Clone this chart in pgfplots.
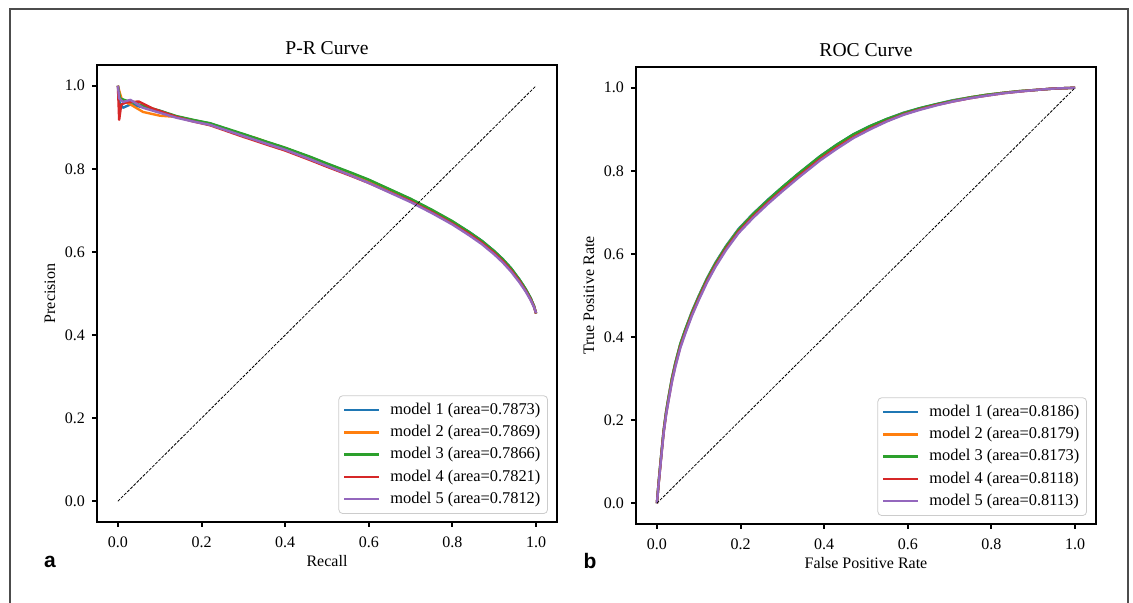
\documentclass[border=0pt]{standalone}
\usepackage{fontspec}
\setmainfont{Liberation Serif}
\newfontfamily\panelfont{Liberation Sans}
\usepackage{pgfplots}
\pgfplotsset{compat=1.18}

\definecolor{c1}{HTML}{1F77B4}
\definecolor{c2}{HTML}{FF7F0E}
\definecolor{c3}{HTML}{2CA02C}
\definecolor{c4}{HTML}{D62728}
\definecolor{c5}{HTML}{9467BD}

\pgfplotsset{
  panel/.style={
    scale only axis, width=230pt, height=228.5pt,
    anchor=south west,
    xmin=-0.05, xmax=1.05, ymin=-0.05, ymax=1.05,
    xtick={0,0.2,0.4,0.6,0.8,1.0},
    ytick={0,0.2,0.4,0.6,0.8,1.0},
    tick pos=left, tick align=outside,
    major tick length=2.5pt,
    every tick/.style={black, line width=1pt},
    axis line style={line width=1pt},
    /pgf/number format/.cd, fixed, fixed zerofill, precision=1, assume math mode=true,
    /pgfplots/.cd,
    ticklabel style={font=\fontsize{8}{9.6}\selectfont},
    xticklabel style={yshift=-1.5pt},
    label style={font=\fontsize{8}{9.6}\selectfont},
    title style={font=\fontsize{9.8}{11}\selectfont, at={(axis description cs:0.5,1)}, anchor=center, yshift=2.6pt},
    xlabel style={at={(axis description cs:0.5,-0.0853)}, anchor=center},
    ylabel style={at={(axis description cs:-0.1022,0.5)}, anchor=center},
    every axis plot/.append style={line width=1.2pt, line join=round},
    legend cell align=left,
    legend image code/.code={\draw[##1, line width=1.2pt] (0pt,0pt) -- (17.5pt,0pt);},
    legend style={font=\fontsize{8.2}{9.8}\selectfont, draw=black!20, rounded corners=2pt,
      anchor=south east, at={(0.9804,0.0175)}, inner xsep=2pt, inner ysep=2pt,
      nodes={inner sep=1.6pt}, row sep=0.75pt, column sep=3.5pt},
  },
  diag/.style={black, line width=0.4pt, dash pattern=on 1.5pt off 0.7pt, forget plot},
}

\begin{document}
\begin{tikzpicture}
\path[use as bounding box] (0,0) rectangle (566.5pt,301.5pt);
\draw[line width=0.8pt, black!70] (5pt,-2pt) -- (5pt,297pt) -- (564pt,297pt) -- (564pt,-2pt);

\begin{axis}[panel, at={(48.5pt,40.5pt)}, title={P-R Curve}, xlabel={Recall}, ylabel={Precision}]
\addplot[c1] coordinates {(0,1.0) (0.004,0.96) (0.012,0.947) (0.03,0.955) (0.06,0.948) (0.1,0.94) (0.14,0.926) (0.18,0.917) (0.22,0.909) (0.30,0.883) (0.36,0.863) (0.40,0.850) (0.46,0.828) (0.50,0.812) (0.56,0.789) (0.60,0.773) (0.65,0.750) (0.70,0.727) (0.75,0.701) (0.80,0.673) (0.84,0.648) (0.87,0.627) (0.90,0.602) (0.92,0.583) (0.94,0.561) (0.96,0.534) (0.975,0.511) (0.987,0.489) (0.995,0.470) (1.0,0.452)};
\addplot[c2] coordinates {(0,1.0) (0.004,0.985) (0.01,0.965) (0.03,0.955) (0.06,0.937) (0.1,0.928) (0.14,0.925) (0.18,0.917) (0.22,0.908) (0.30,0.881) (0.33,0.874) (0.36,0.863) (0.40,0.850) (0.46,0.827) (0.50,0.811) (0.56,0.788) (0.60,0.771) (0.65,0.748) (0.70,0.725) (0.75,0.699) (0.80,0.671) (0.84,0.646) (0.87,0.625) (0.90,0.600) (0.92,0.581) (0.94,0.559) (0.96,0.532) (0.975,0.509) (0.987,0.487) (0.995,0.469) (1.0,0.452)};
\addplot[c3] coordinates {(0,1.0) (0.005,0.97) (0.015,0.966) (0.05,0.955) (0.1,0.94) (0.14,0.927) (0.18,0.918) (0.22,0.910) (0.30,0.884) (0.36,0.864) (0.40,0.851) (0.46,0.829) (0.50,0.813) (0.56,0.790) (0.60,0.774) (0.65,0.751) (0.70,0.728) (0.75,0.702) (0.80,0.674) (0.84,0.648) (0.87,0.627) (0.90,0.602) (0.92,0.583) (0.94,0.561) (0.96,0.534) (0.975,0.511) (0.987,0.489) (0.995,0.470) (1.0,0.452)};
\addplot[c4] coordinates {(0,1.0) (0.003,0.918) (0.008,0.955) (0.02,0.960) (0.05,0.962) (0.084,0.945) (0.14,0.925) (0.18,0.914) (0.22,0.905) (0.30,0.877) (0.36,0.857) (0.40,0.844) (0.46,0.821) (0.50,0.805) (0.56,0.782) (0.60,0.766) (0.65,0.744) (0.70,0.722) (0.75,0.696) (0.80,0.668) (0.84,0.643) (0.87,0.622) (0.90,0.597) (0.92,0.578) (0.94,0.556) (0.96,0.530) (0.975,0.507) (0.987,0.486) (0.995,0.468) (1.0,0.452)};
\addplot[c5] coordinates {(0,1.0) (0.003,0.97) (0.012,0.961) (0.03,0.966) (0.06,0.947) (0.1,0.935) (0.14,0.923) (0.18,0.914) (0.22,0.906) (0.30,0.879) (0.36,0.859) (0.40,0.846) (0.46,0.823) (0.50,0.807) (0.56,0.783) (0.60,0.766) (0.65,0.743) (0.70,0.720) (0.75,0.694) (0.80,0.666) (0.84,0.640) (0.87,0.619) (0.90,0.594) (0.92,0.575) (0.94,0.553) (0.96,0.527) (0.975,0.505) (0.987,0.484) (0.995,0.467) (1.0,0.453)};
\addplot[diag] coordinates {(0,0) (1,1)};
\legend{model 1 (area=0.7873), model 2 (area=0.7869), model 3 (area=0.7866), model 4 (area=0.7821), model 5 (area=0.7812)}
\end{axis}

\begin{axis}[panel, at={(318pt,39.5pt)}, title={ROC Curve}, xlabel={False Positive Rate}, ylabel={True Positive Rate}]
\addplot[c1] coordinates {(0,0) (0.004,0.049) (0.008,0.092) (0.012,0.134) (0.016,0.175) (0.022,0.221) (0.028,0.257) (0.036,0.302) (0.044,0.338) (0.056,0.384) (0.068,0.419) (0.084,0.462) (0.1,0.499) (0.12,0.542) (0.14,0.579) (0.165,0.619) (0.195,0.660) (0.23,0.697) (0.267,0.732) (0.3,0.761) (0.339,0.794) (0.39,0.835) (0.43,0.863) (0.47,0.888) (0.51,0.908) (0.55,0.925) (0.59,0.940) (0.629,0.951) (0.67,0.961) (0.708,0.970) (0.75,0.977) (0.788,0.983) (0.83,0.988) (0.868,0.992) (0.91,0.995) (0.948,0.998) (0.975,0.999) (1,1)};
\addplot[c2] coordinates {(0,0) (0.004,0.048) (0.008,0.091) (0.012,0.133) (0.016,0.173) (0.022,0.219) (0.028,0.255) (0.036,0.300) (0.044,0.336) (0.056,0.382) (0.068,0.417) (0.084,0.460) (0.1,0.497) (0.12,0.540) (0.14,0.577) (0.165,0.617) (0.195,0.658) (0.23,0.695) (0.267,0.730) (0.3,0.759) (0.339,0.792) (0.39,0.833) (0.43,0.861) (0.47,0.886) (0.51,0.906) (0.55,0.924) (0.59,0.939) (0.629,0.950) (0.67,0.960) (0.708,0.969) (0.75,0.977) (0.788,0.983) (0.83,0.988) (0.868,0.992) (0.91,0.995) (0.948,0.998) (0.975,0.999) (1,1)};
\addplot[c3] coordinates {(0,0) (0.004,0.049) (0.008,0.092) (0.012,0.133) (0.016,0.174) (0.022,0.220) (0.028,0.256) (0.036,0.301) (0.044,0.337) (0.056,0.383) (0.068,0.418) (0.084,0.460) (0.1,0.497) (0.12,0.540) (0.14,0.577) (0.165,0.617) (0.195,0.658) (0.23,0.696) (0.267,0.731) (0.3,0.761) (0.339,0.794) (0.39,0.835) (0.43,0.863) (0.47,0.888) (0.51,0.908) (0.55,0.925) (0.59,0.939) (0.629,0.951) (0.67,0.961) (0.708,0.969) (0.75,0.977) (0.788,0.983) (0.83,0.988) (0.868,0.992) (0.91,0.995) (0.948,0.998) (0.975,0.999) (1,1)};
\addplot[c4] coordinates {(0,0) (0.004,0.046) (0.008,0.088) (0.012,0.130) (0.016,0.170) (0.022,0.215) (0.028,0.250) (0.036,0.295) (0.044,0.331) (0.056,0.377) (0.068,0.412) (0.084,0.455) (0.1,0.492) (0.12,0.535) (0.14,0.572) (0.165,0.612) (0.195,0.653) (0.23,0.690) (0.267,0.725) (0.3,0.754) (0.339,0.787) (0.39,0.828) (0.43,0.856) (0.47,0.881) (0.51,0.902) (0.55,0.920) (0.59,0.936) (0.629,0.948) (0.67,0.959) (0.708,0.967) (0.75,0.975) (0.788,0.981) (0.83,0.987) (0.868,0.991) (0.91,0.995) (0.948,0.998) (0.975,0.999) (1,1)};
\addplot[c5] coordinates {(0,0) (0.004,0.045) (0.008,0.087) (0.012,0.128) (0.016,0.168) (0.022,0.213) (0.028,0.248) (0.036,0.292) (0.044,0.328) (0.056,0.374) (0.068,0.409) (0.084,0.452) (0.1,0.489) (0.12,0.532) (0.14,0.569) (0.165,0.609) (0.195,0.650) (0.23,0.687) (0.267,0.722) (0.3,0.751) (0.339,0.784) (0.39,0.825) (0.43,0.853) (0.47,0.879) (0.51,0.900) (0.55,0.919) (0.59,0.935) (0.629,0.947) (0.67,0.958) (0.708,0.967) (0.75,0.975) (0.788,0.981) (0.83,0.987) (0.868,0.991) (0.91,0.995) (0.948,0.998) (0.975,0.999) (1,1)};
\addplot[diag] coordinates {(0,0) (1,1)};
\legend{model 1 (area=0.8186), model 2 (area=0.8179), model 3 (area=0.8173), model 4 (area=0.8118), model 5 (area=0.8113)}
\end{axis}

\node[font=\panelfont\bfseries\fontsize{10.5}{12}\selectfont] at (25pt,20.5pt) {a};
\node[font=\panelfont\bfseries\fontsize{10.5}{12}\selectfont] at (295pt,21pt) {b};
\end{tikzpicture}
\end{document}
